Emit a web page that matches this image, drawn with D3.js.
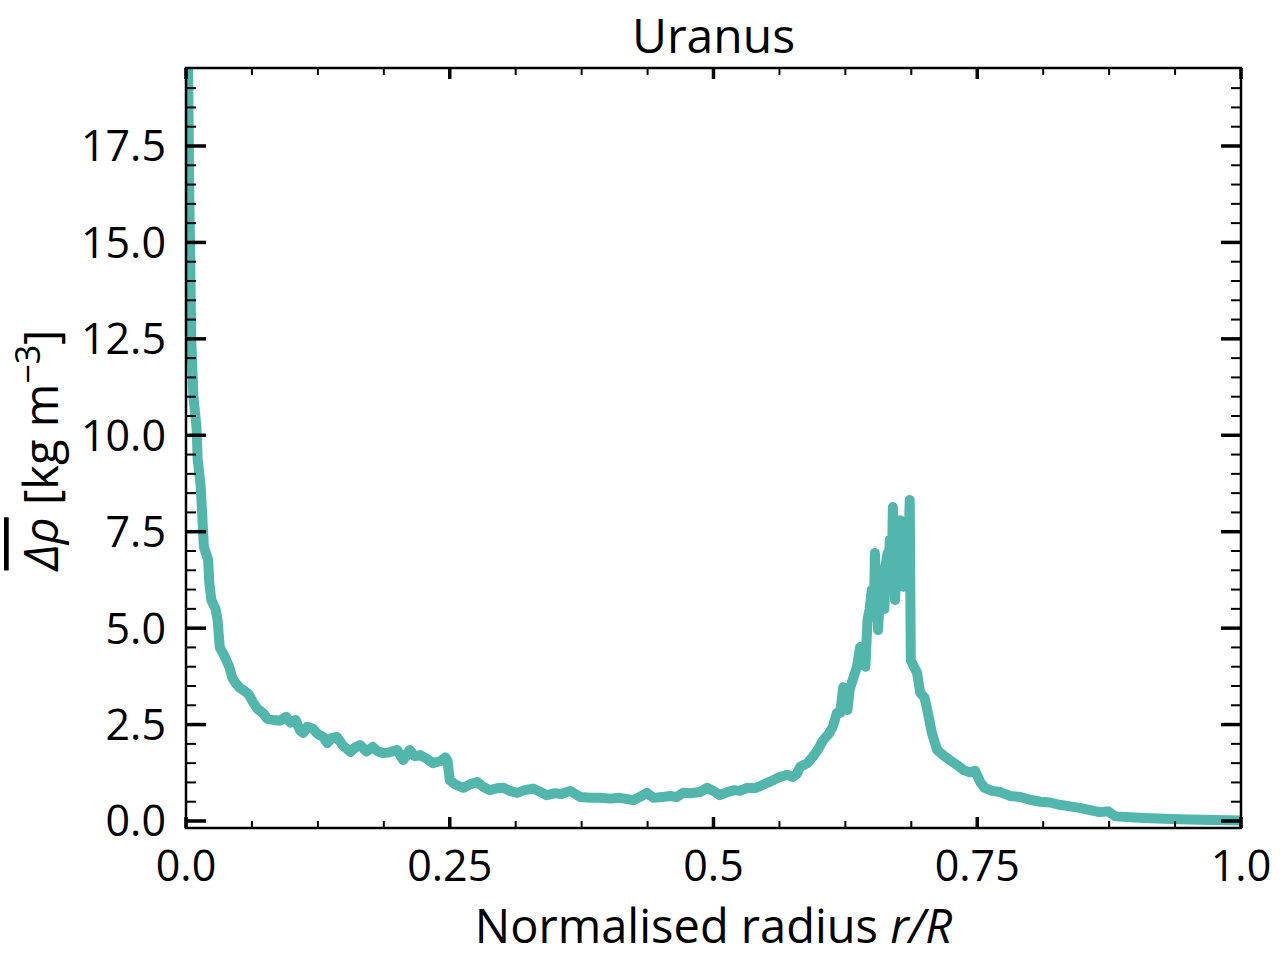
<!DOCTYPE html>
<html>
<head>
<meta charset="utf-8">
<script src="https://cdn.jsdelivr.net/npm/d3@7"></script>
<style>
  body { margin: 0; background: #fff; }
  svg text { font-family: "Open Sans", "DejaVu Sans", sans-serif; fill: #000; }
</style>
</head>
<body>
<div id="chart"></div>
<script>
'use strict';

// normalised radius r/R
let radius = [0.002, 0.003, 0.004, 0.005, 0.007, 0.010, 0.011, 0.014, 0.016, 0.017,
  0.021, 0.022, 0.024, 0.028, 0.030, 0.032, 0.036, 0.041, 0.044, 0.047,
  0.051, 0.054, 0.059, 0.064, 0.068, 0.073, 0.077, 0.083, 0.089, 0.095,
  0.099, 0.104, 0.108, 0.111, 0.115, 0.120, 0.125, 0.130, 0.134, 0.138,
  0.143, 0.149, 0.156, 0.160, 0.165, 0.171, 0.177, 0.182, 0.187, 0.193,
  0.200, 0.206, 0.212, 0.217, 0.222, 0.228, 0.234, 0.241, 0.246, 0.248,
  0.250, 0.255, 0.263, 0.269, 0.276, 0.282, 0.288, 0.295, 0.301, 0.307,
  0.314, 0.321, 0.329, 0.336, 0.342, 0.350, 0.356, 0.364, 0.369, 0.374,
  0.383, 0.392, 0.402, 0.411, 0.424, 0.430, 0.437, 0.443, 0.451, 0.459,
  0.465, 0.471, 0.478, 0.487, 0.494, 0.500, 0.506, 0.513, 0.520, 0.525,
  0.532, 0.539, 0.544, 0.551, 0.556, 0.563, 0.570, 0.575, 0.579, 0.582,
  0.589, 0.594, 0.599, 0.604, 0.609, 0.613, 0.617, 0.620, 0.623, 0.627,
  0.629, 0.632, 0.636, 0.639, 0.644, 0.646, 0.648, 0.650, 0.652, 0.653,
  0.656, 0.658, 0.659, 0.660, 0.662, 0.663, 0.665, 0.666, 0.667, 0.669,
  0.670, 0.672, 0.674, 0.676, 0.677, 0.678, 0.680, 0.681, 0.682, 0.683,
  0.684, 0.686, 0.687, 0.690, 0.693, 0.696, 0.700, 0.702,
  0.707, 0.712, 0.718, 0.724, 0.731, 0.737, 0.743, 0.748, 0.753, 0.757,
  0.764, 0.772, 0.781, 0.791, 0.800, 0.810, 0.819, 0.828, 0.838, 0.847,
  0.857, 0.866, 0.874, 0.881, 0.895, 0.914, 0.933, 0.961, 1.000];

// mean density difference [kg m^-3]
let drho = [19.6, 16.5, 14.5, 12.5, 11.0, 10.2, 9.4, 8.66, 7.6, 7.1,
  6.77, 6.2, 5.73, 5.5, 5.2, 4.5, 4.3, 4.0, 3.7, 3.58,
  3.45, 3.4, 3.3, 3.06, 2.9, 2.8, 2.65, 2.62, 2.6, 2.7,
  2.55, 2.62, 2.35, 2.28, 2.44, 2.40, 2.25, 2.18, 2.02, 2.15,
  2.18, 1.95, 1.79, 1.9, 1.97, 1.80, 1.92, 1.80, 1.76, 1.78,
  1.84, 1.58, 1.84, 1.68, 1.71, 1.62, 1.50, 1.55, 1.65, 1.55,
  1.06, 0.95, 0.86, 0.95, 1.01, 0.88, 0.80, 0.85, 0.86, 0.78,
  0.73, 0.80, 0.84, 0.75, 0.67, 0.72, 0.70, 0.78, 0.70, 0.62,
  0.60, 0.60, 0.58, 0.60, 0.54, 0.62, 0.73, 0.60, 0.62, 0.65,
  0.62, 0.73, 0.72, 0.75, 0.86, 0.78, 0.67, 0.75, 0.80, 0.78,
  0.86, 0.85, 0.90, 0.99, 1.05, 1.14, 1.20, 1.14, 1.22, 1.40,
  1.50, 1.66, 1.85, 2.10, 2.25, 2.44, 2.80, 2.80, 3.47, 2.88,
  3.40, 3.66, 4.0, 4.51, 4.0, 5.21, 5.5, 5.99, 5.3, 6.95,
  4.95, 6.0, 5.6, 6.25, 5.5, 6.6, 6.95, 6.0, 7.29, 6.3,
  8.14, 5.73, 6.6, 6.2, 7.80, 6.5, 6.07, 7.5, 7.0, 7.73,
  6.3, 8.32, 4.17, 4.0, 3.84, 3.32, 3.2, 2.96,
  2.28, 1.84, 1.70, 1.58, 1.45, 1.32, 1.26, 1.30, 1.0, 0.86,
  0.78, 0.75, 0.65, 0.62, 0.55, 0.50, 0.48, 0.42, 0.38, 0.34,
  0.28, 0.23, 0.25, 0.12, 0.10, 0.07, 0.05, 0.03, 0.01];

let x_major = [0, 0.25, 0.5, 0.75, 1.0];
let x_labels = ['0.0', '0.25', '0.5', '0.75', '1.0'];
let y_major = [0, 2.5, 5, 7.5, 10, 12.5, 15, 17.5];

let width = 1280, height = 960;
let margin = {left: 186, right: 39, top: 68, bottom: 132};
let pw = width - margin.left - margin.right,
    ph = height - margin.top - margin.bottom;

let svg = d3.select('#chart').append('svg')
    .attr('width', width)
    .attr('height', height);

let x = d3.scaleLinear().domain([0, 1]).range([0, pw]);
let y = d3.scaleLinear().domain([-0.1815, 19.522]).range([ph, 0]);

let g = svg.append('g').attr('transform', 'translate(' + margin.left + ',' + margin.top + ')');

g.append('clipPath').attr('id', 'clip')
  .append('rect').attr('width', pw).attr('height', ph);

let pts = radius.map(function(r, i) { return [r, drho[i]]; });

g.append('path')
    .datum(pts)
    .attr('clip-path', 'url(#clip)')
    .attr('fill', 'none')
    .attr('stroke', '#52b6ad')
    .attr('stroke-width', 10)
    .attr('stroke-linejoin', 'round')
    .attr('stroke-linecap', 'round')
    .attr('d', d3.line().x(function(d) { return x(d[0]); }).y(function(d) { return y(d[1]); }));

// ticks pointing inward on all four sides
let x_minor = d3.range(0, 1.0001, 0.0625).filter(function(v) { return Math.abs(v * 4 - Math.round(v * 4)) > 1e-6; });
let y_minor = d3.range(0, 19.5, 0.5).filter(function(v) { return Math.abs(v / 2.5 - Math.round(v / 2.5)) > 1e-6; });

let ticks = g.append('g').attr('stroke', '#000');
let tick = function(x1, y1, x2, y2, w) {
    ticks.append('line').attr('x1', x1).attr('y1', y1).attr('x2', x2).attr('y2', y2).attr('stroke-width', w);
};
x_major.forEach(function(v) { tick(x(v), ph, x(v), ph - 11, 3.5); tick(x(v), 0, x(v), 11, 3.5); });
x_minor.forEach(function(v) { tick(x(v), ph, x(v), ph - 7, 2); tick(x(v), 0, x(v), 7, 2); });
y_major.forEach(function(v) { tick(0, y(v), 20, y(v), 3.5); tick(pw, y(v), pw - 20, y(v), 3.5); });
y_minor.forEach(function(v) { tick(0, y(v), 10, y(v), 2); tick(pw, y(v), pw - 10, y(v), 2); });

g.append('rect')
    .attr('width', pw).attr('height', ph)
    .attr('fill', 'none').attr('stroke', '#000').attr('stroke-width', 2.5);

// tick labels
g.selectAll('text.xl').data(x_major).enter().append('text')
    .attr('class', 'xl')
    .attr('x', function(d) { return x(d); })
    .attr('y', ph + 53)
    .attr('text-anchor', 'middle')
    .attr('font-size', 43)
    .text(function(d, i) { return x_labels[i]; });

g.selectAll('text.yl').data(y_major).enter().append('text')
    .attr('class', 'yl')
    .attr('x', -20)
    .attr('y', function(d) { return y(d); })
    .attr('dy', '0.36em')
    .attr('text-anchor', 'end')
    .attr('font-size', 43)
    .text(function(d) { return d.toFixed(1); });

// titles
svg.append('text')
    .attr('x', margin.left + pw / 2).attr('y', 53)
    .attr('text-anchor', 'middle').attr('font-size', 48)
    .text('Uranus');

let xl = svg.append('text')
    .attr('x', margin.left + pw / 2).attr('y', 943)
    .attr('text-anchor', 'middle').attr('font-size', 47);
xl.append('tspan').text('Normalised radius ');
xl.append('tspan').attr('font-style', 'italic').text('r/R');

let yl = svg.append('text')
    .attr('transform', 'translate(58,450) rotate(-90)')
    .attr('text-anchor', 'middle').attr('font-size', 47);
yl.append('tspan').attr('font-style', 'italic').attr('text-decoration', 'overline').text('Δρ');
yl.append('tspan').text(' [kg m');
yl.append('tspan').attr('dy', -18).attr('font-size', 34).text('−3');
yl.append('tspan').attr('dy', 18).text(']');
</script>
</body>
</html>
